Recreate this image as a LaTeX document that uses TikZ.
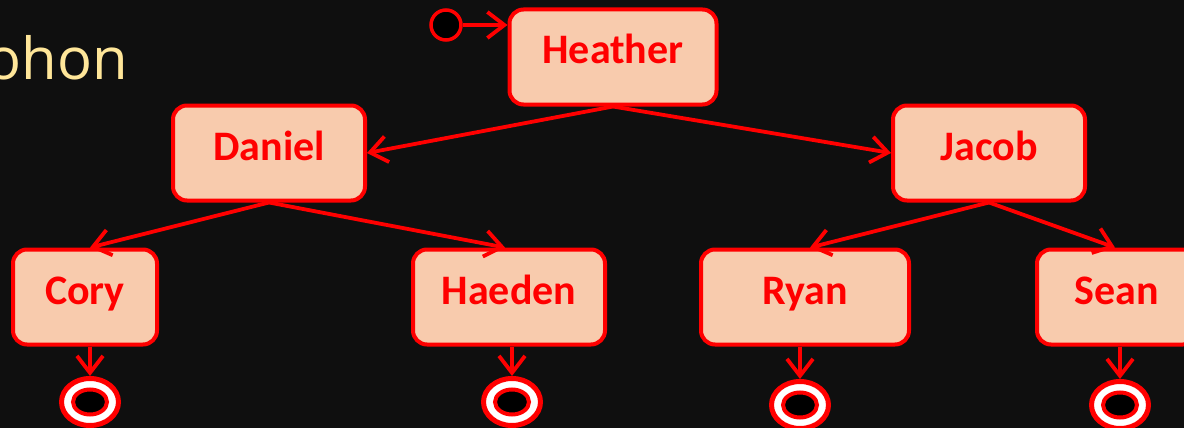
\documentclass[tikz,border=0pt]{standalone}
\usepackage{fontspec}
\setmainfont{Carlito}
\newfontfamily\titlefont{Open Sans}
\usetikzlibrary{arrows.meta,shapes.geometric}
\definecolor{bg}{HTML}{0F0F0F}
\definecolor{boxfill}{HTML}{F8CBAD}
\definecolor{rd}{HTML}{FF0000}
\definecolor{ttl}{HTML}{FFE699}
\tikzset{
  state/.style={draw=rd, fill=boxfill, line width=4pt, rounded corners=14pt,
    minimum height=95pt, text=rd, font=\fontsize{42}{46}\selectfont\bfseries, inner sep=0pt,
    text height=28pt, text depth=14pt},
  conn/.style={draw=rd, line width=3.8pt, -{Straight Barb[length=17pt,width=26pt,line width=3.8pt]}},
  finalout/.style={ellipse, draw=rd, fill=white, line width=5pt, minimum width=57pt, minimum height=47pt, inner sep=0pt},
  finalin/.style={ellipse, draw=rd, fill=black, line width=4pt, minimum width=34pt, minimum height=25pt, inner sep=0pt},
  initst/.style={circle, draw=rd, fill=black, line width=3.5pt, minimum size=30pt, inner sep=0pt}
}
\begin{document}
\begin{tikzpicture}[x=1pt,y=-1pt]
\fill[bg] (0,0) rectangle (1184,428);
\useasboundingbox (0,0) rectangle (1184,428);
\clip (0,0) rectangle (1184,428);
\node[anchor=base east, text=ttl, font=\titlefont\fontsize{58}{60}\selectfont, inner sep=0pt] (title) at (128,80) {ohon};

\node[state, minimum width=207pt] (heather) at (613,57) {Heather};
\node[state, minimum width=192pt] (daniel) at (269,153) {Daniel};
\node[state, minimum width=192pt] (jacob) at (989,153) {Jacob};
\node[state, minimum width=144pt] (cory) at (85,297) {Cory};
\node[state, minimum width=192pt] (haeden) at (509,297) {Haeden};
\node[state, minimum width=208pt] (ryan) at (805,297) {Ryan};
\node[state, minimum width=160pt] (sean) at (1117,297) {Sean};

\node[initst] (init) at (446,25) {};
\draw[conn] (init.east) -- (heather.west |- init.east);

\draw[conn] (heather.south) -- (daniel.east);
\draw[conn] (heather.south) -- (jacob.west);
\draw[conn] (daniel.south) -- ([xshift=5pt]cory.north);
\draw[conn] (daniel.south) -- ([xshift=-4pt]haeden.north);
\draw[conn] (jacob.south) -- ([xshift=5pt]ryan.north);
\draw[conn] (jacob.south) -- ([xshift=-2pt]sean.north);

\node[finalout] (f1) at (90,402) {};
\node[finalin] (f1i) at (90,402) {};
\node[finalout] (f2) at (512,402) {};
\node[finalin] (f2i) at (512,402) {};
\node[finalout] (f3) at (800,405) {};
\node[finalin] (f3i) at (800,405) {};
\node[finalout] (f4) at (1120,405) {};
\node[finalin] (f4i) at (1120,405) {};

\draw[conn] (cory.south -| f1) -- (f1.north);
\draw[conn] (haeden.south -| f2) -- (f2.north);
\draw[conn] (ryan.south -| f3) -- (f3.north);
\draw[conn] (sean.south -| f4) -- (f4.north);
\end{tikzpicture}
\end{document}
